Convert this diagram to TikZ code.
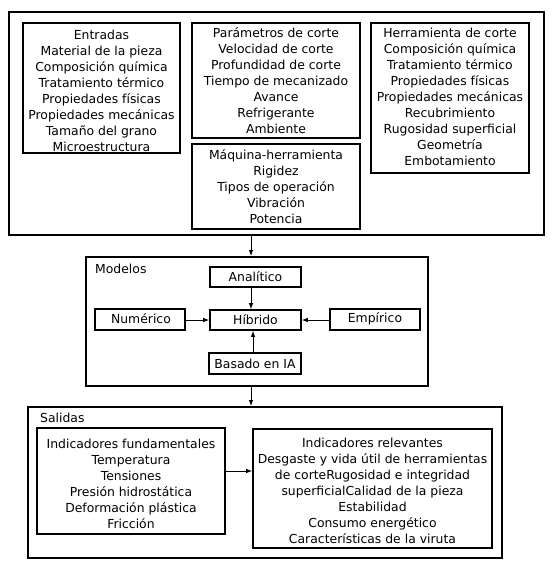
\documentclass[tikz,border=0pt]{standalone}
\usepackage{fontspec}
\setmainfont{DejaVu Sans}
\usetikzlibrary{arrows.meta}
\tikzset{
  bigbox/.style={draw, line width=2pt, inner sep=0pt},
  box/.style={draw, line width=1.6pt, inner sep=0pt},
  txt/.style={align=center, inner sep=0pt, font=\fontsize{12.4}{16}\selectfont},
  lbl/.style={inner sep=0pt, font=\fontsize{12.4}{16}\selectfont},
  conn/.style={line width=0.9pt, -{Latex[length=6pt,width=4.5pt]}}
}
\newcommand{\boxat}[6]{% name, x1,y1,x2,y2, style
  \node[#6, minimum width={(#4)-(#2)}, minimum height={(#5)-(#3)}] (#1) at ({((#2)+(#4))/2},{((#3)+(#5))/2}) {};}
\begin{document}
\begin{tikzpicture}[x=1pt,y=-1pt]
\useasboundingbox (0,0) rectangle (553,566);
\fill[white] (0,0) rectangle (553,566);
% Entradas container
\boxat{inp}{9}{12}{544}{235}{bigbox}
\boxat{ent}{23}{23}{180}{153}{box}
\boxat{par}{192}{23}{360}{138}{box}
\boxat{maq}{192}{144}{360}{229}{box}
\boxat{her}{371}{23}{529}{173}{box}
\node[txt] (entT) at (101.5,91) {Entradas\\Material de la pieza\\Composición química\\Tratamiento térmico\\Propiedades físicas\\Propiedades mecánicas\\Tamaño del grano\\Microestructura};
\node[txt] (parT) at (276,80.5) {Parámetros de corte\\Velocidad de corte\\Profundidad de corte\\Tiempo de mecanizado\\Avance\\Refrigerante\\Ambiente};
\node[txt] (maqT) at (276,187) {Máquina-herramienta\\Rigidez\\Tipos de operación\\Vibración\\Potencia};
\node[txt] (herT) at (450,96.5) {Herramienta de corte\\Composición química\\Tratamiento térmico\\Propiedades físicas\\Propiedades mecánicas\\Recubrimiento\\Rugosidad superficial\\Geometría\\Embotamiento};
% Modelos
\boxat{mod}{86}{257}{428}{386}{bigbox}
\node[lbl, anchor=west] (modL) at (95,269) {Modelos};
\boxat{ana}{210}{267}{301}{287}{box}
\boxat{hib}{210}{310}{301}{330}{box}
\boxat{num}{95}{309}{185}{330}{box}
\boxat{emp}{330}{309}{420}{330}{box}
\boxat{ia}{209}{353}{301}{374}{box}
\node[lbl] (anaT) at (ana) {Analítico};
\node[lbl] (hibT) at (hib) {Híbrido};
\node[lbl] (numT) at (141,318.5) {Numérico};
\node[lbl] (empT) at (375,318.5) {Empírico};
\node[lbl] (iaT) at (ia) {Basado en IA};
% Salidas
\boxat{sal}{28}{407}{502}{558}{bigbox}
\node[lbl, anchor=west] (salL) at (40,418) {Salidas};
\boxat{fun}{37}{428}{225}{534}{box}
\boxat{rel}{253}{429}{492}{548}{box}
\node[txt] (funT) at (131,483.5) {Indicadores fundamentales\\Temperatura\\Tensiones\\Presión hidrostática\\Deformación plástica\\Fricción};
\node[txt] (relT) at (372.5,491) {Indicadores relevantes\\Desgaste y vida útil de herramientas\\de corteRugosidad e integridad\\superficialCalidad de la pieza\\Estabilidad\\Consumo energético\\Características de la viruta};
% connectors
\draw[conn] (inp.south -| 251,0) -- (mod.north -| 251,0);
\draw[conn] (mod.south -| 251,0) -- (sal.north -| 251,0);
\draw[conn] (ana.south -| 251,0) -- (hib.north -| 251,0);
\draw[conn] (ia.north -| 253,0) -- (hib.south -| 253,0);
\draw[conn] (num.east |- 0,320) -- (hib.west |- 0,320);
\draw[conn] (emp.west |- 0,320) -- (hib.east |- 0,320);
\draw[conn] (fun.east |- 0,471) -- (rel.west |- 0,471);
\end{tikzpicture}
\end{document}
